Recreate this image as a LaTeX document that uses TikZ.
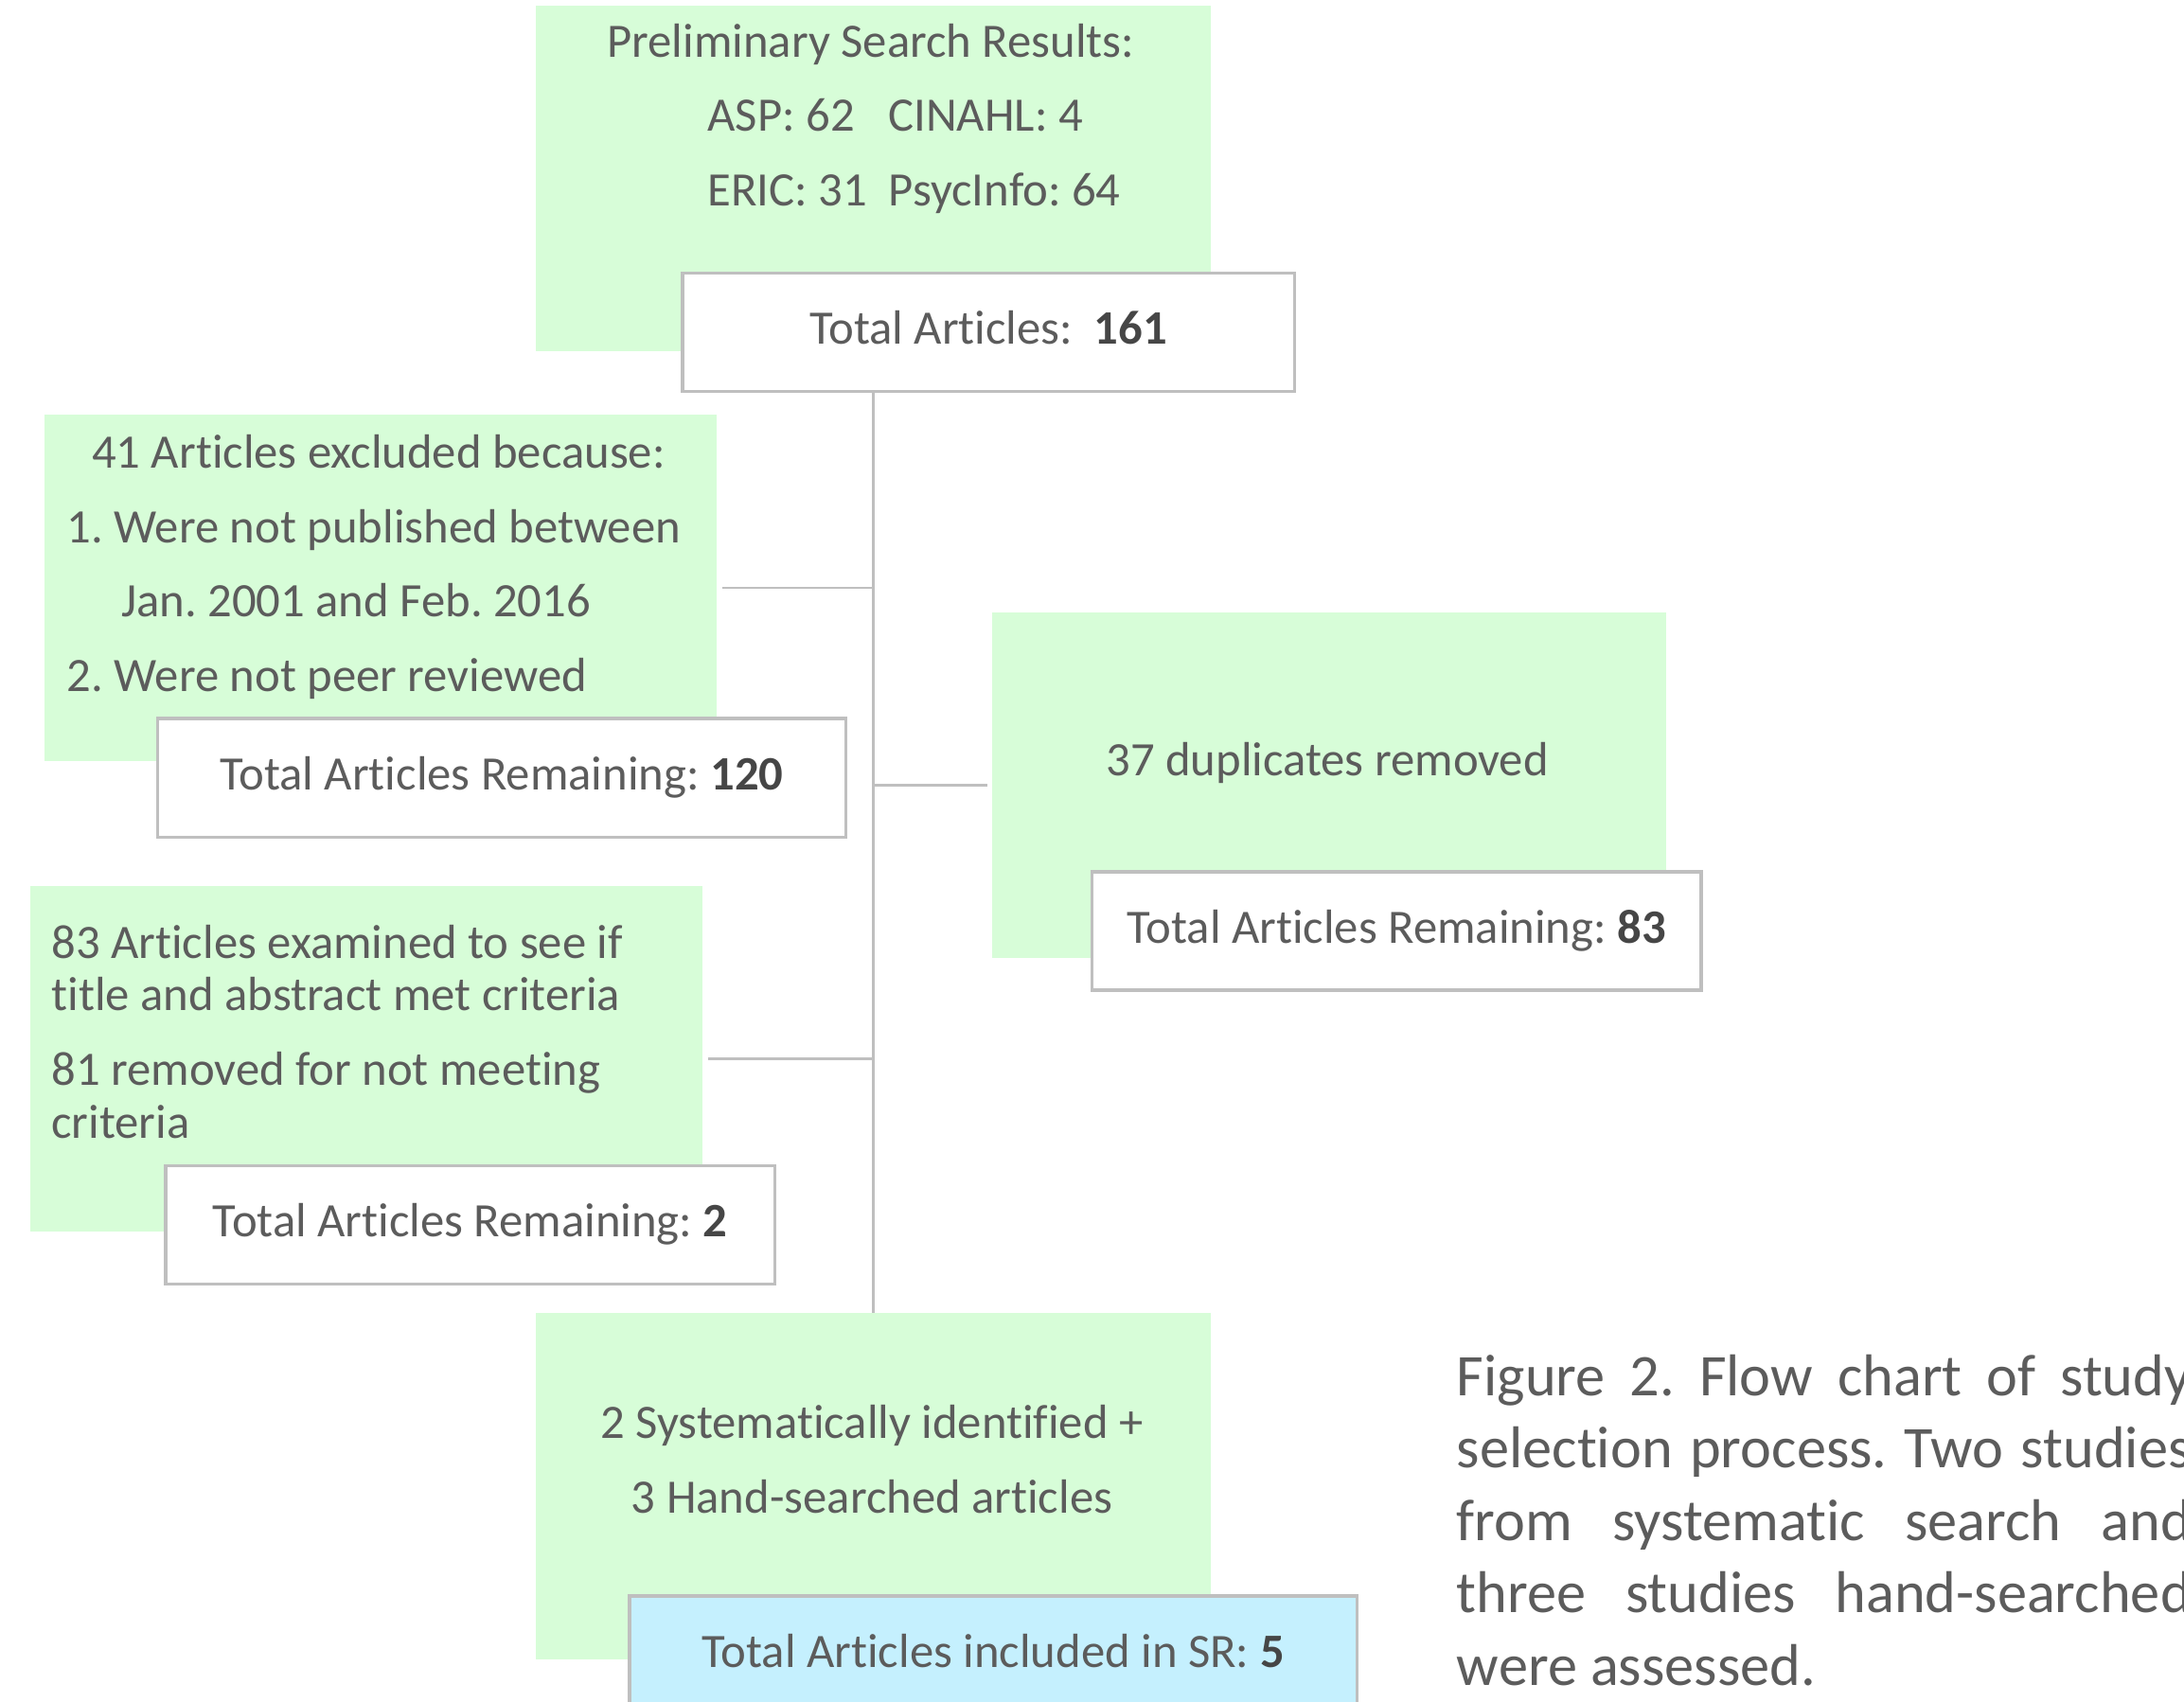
\documentclass[tikz,border=0pt]{standalone}
\usepackage{fontspec}
\setmainfont{Carlito}[Ligatures={NoCommon}]
\definecolor{mint}{RGB}{215,253,216}
\definecolor{sky}{RGB}{197,240,254}
\definecolor{txt}{RGB}{92,92,92}
\definecolor{numc}{RGB}{70,70,70}
\definecolor{edge}{RGB}{191,191,191}
\newcommand\bxf{\fontsize{9.8pt}{15.2pt}\selectfont\frenchspacing}
\newcommand\bxtight{\fontsize{9.8pt}{10.67pt}\selectfont\frenchspacing}
\newcommand\capf{\fontsize{12.05pt}{14.8pt}\selectfont\frenchspacing}
\newcommand\fst{\rule{0pt}{0.3cm}}
\newcommand\cst{\rule{0pt}{0.4cm}}
\newcommand\num[1]{{\color{numc}\textbf{#1}}}
\frenchspacing
\begin{document}
\begin{tikzpicture}[x=0.01cm,y=-0.01cm,
  greenbox/.style={fill=mint, draw=none, inner sep=0pt, outer sep=0pt, anchor=north west},
  whitebox/.style={fill=white, draw=edge, line width=0.65pt, inner sep=0pt, outer sep=0pt,
    anchor=north west, font=\bxf, text=txt, text height=0.24cm, text depth=0.07cm,
    minimum height=0.85cm},
  bluebox/.style={whitebox, fill=sky},
  txtblock/.style={inner sep=0pt, outer sep=0pt, align=left, font=\bxf, text=txt},
  conn/.style={draw=edge, line width=0.55pt}
]
\useasboundingbox (0,0) rectangle (1568,1222);
\clip (0,0) rectangle (1568,1222);

% green boxes
\node[greenbox, minimum width=4.84cm, minimum height=2.48cm] (top) at (385,4) {};
\node[greenbox, minimum width=4.82cm, minimum height=2.48cm] (ex1) at (32,298) {};
\node[greenbox, minimum width=4.84cm, minimum height=2.48cm] (dup) at (712,440) {};
\node[greenbox, minimum width=4.82cm, minimum height=2.48cm] (ex2) at (22,636) {};
\node[greenbox, minimum width=4.84cm, minimum height=2.48cm] (bot) at (385,943) {};

% result boxes
\node[whitebox, minimum width=4.39cm] (t161) at (490,196) {Total Articles:\hspace{0.45em}\num{161}};
\node[whitebox, minimum width=4.94cm] (r120) at (113,516) {Total Articles Remaining: \num{120}};
\node[whitebox, minimum width=4.37cm] (r83) at (784,626) {Total Articles Remaining: \num{83}};
\node[whitebox, minimum width=4.37cm] (r2) at (119,837) {Total Articles Remaining: \num{2}};
\node[bluebox, minimum width=5.22cm] (sr) at (452,1146) {Total Articles included in SR: \num{5}};

% texts in green boxes
\node[txtblock, anchor=north west] (topT) at (436,11)
  {\fst Preliminary Search Results:\\
   \hspace*{0.72cm}ASP: 62\hspace{0.7em}CINAHL: 4\\
   \hspace*{0.72cm}ERIC: 31\hspace{0.45em}PsycInfo: 64};
\node[txtblock, anchor=north west] (ex1T) at (48,306)
  {\fst\hspace*{0.18cm}41 Articles excluded because:\\
   1. Were not published between\\
   \hspace*{0.39cm}Jan. 2001 and Feb. 2016\\
   2. Were not peer reviewed};
\node[txtblock, anchor=north] (dupT) at (953,527) {\fst 37 duplicates removed};
\node[txtblock, font=\bxtight, anchor=north west] (ex2T) at (37,658)
  {\fst 83 Articles examined to see if\\
   title and abstract met criteria\\[0.165cm]
   81 removed for not meeting\\
   criteria};
\node[txtblock, align=center, anchor=north] (botT) at (626,1003)
  {\fst 2 Systematically identified +\\
   3 Hand-searched articles};

% caption
\node[txtblock, font=\capf, anchor=north west] (capT) at (1046,962)
  {\makebox[5.27cm][s]{\cst Figure 2. Flow chart of study}\\
   \makebox[5.27cm][s]{selection process. Two studies}\\
   \makebox[5.27cm][s]{from systematic search and}\\
   \makebox[5.27cm][s]{three studies hand-searched}\\
   were assessed.};

% connectors
\draw[conn] (t161.south -| top.south) -- (bot.north);
\draw[conn] ([xshift=0.04cm]ex1.east) -- (ex1.east -| top.south);
\draw[conn] ([xshift=0.04cm]ex2.east) -- (ex2.east -| top.south);
\draw[conn] (dup.west -| top.south) -- ([xshift=-0.03cm]dup.west);
\end{tikzpicture}
\end{document}
